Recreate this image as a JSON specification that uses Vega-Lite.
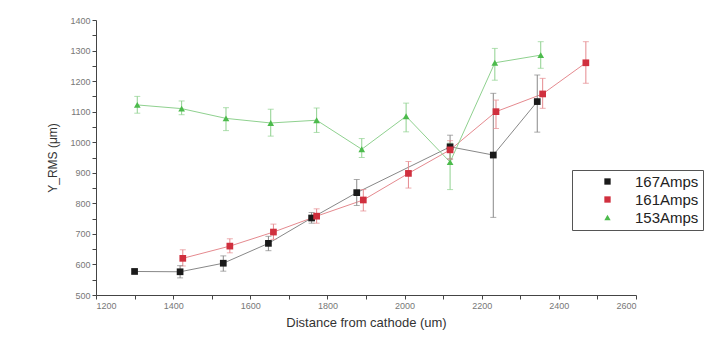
{
  "$schema": "https://vega.github.io/schema/vega-lite/v6.json",
  "autosize": {"type": "none"},
  "width": 540,
  "height": 275,
  "padding": {"left": 96, "top": 20, "right": 70, "bottom": 44},
  "background": "white",
  "config": {
    "view": {"stroke": null},
    "font": "Liberation Sans",
    "axis": {"grid": false, "domainColor": "#444", "tickColor": "#444", "labelColor": "#777", "labelFontSize": 9, "titleColor": "#333", "titleFontWeight": "normal", "titleFontSize": 12, "tickSize": 4, "labelOverlap": false},
    "legend": {"orient": "none", "legendX": 476, "legendY": 150, "strokeColor": "#555", "padding": 4, "labelFontSize": 15, "labelColor": "#222", "rowPadding": 2, "symbolSize": 40, "labelOffset": 20, "symbolOffset": 24, "fillColor": "white"}
  },
  "data": {"values": [
    {"series": "167Amps", "x": 1300, "y": 577, "lo": 570, "hi": 585},
    {"series": "167Amps", "x": 1418, "y": 576, "lo": 556, "hi": 596},
    {"series": "167Amps", "x": 1530, "y": 604, "lo": 578, "hi": 628},
    {"series": "167Amps", "x": 1647, "y": 669, "lo": 645, "hi": 692},
    {"series": "167Amps", "x": 1759, "y": 752, "lo": 735, "hi": 770},
    {"series": "167Amps", "x": 1876, "y": 835, "lo": 793, "hi": 878},
    {"series": "167Amps", "x": 2118, "y": 985, "lo": 945, "hi": 1023},
    {"series": "167Amps", "x": 2230, "y": 958, "lo": 754, "hi": 1160},
    {"series": "167Amps", "x": 2344, "y": 1133, "lo": 1033, "hi": 1220},
    {"series": "161Amps", "x": 1425, "y": 620, "lo": 595, "hi": 648},
    {"series": "161Amps", "x": 1547, "y": 660, "lo": 638, "hi": 684},
    {"series": "161Amps", "x": 1660, "y": 706, "lo": 682, "hi": 732},
    {"series": "161Amps", "x": 1772, "y": 758, "lo": 735, "hi": 782},
    {"series": "161Amps", "x": 1893, "y": 811, "lo": 775, "hi": 845},
    {"series": "161Amps", "x": 2010, "y": 898, "lo": 850, "hi": 937},
    {"series": "161Amps", "x": 2118, "y": 975, "lo": 945, "hi": 1005},
    {"series": "161Amps", "x": 2237, "y": 1100, "lo": 1045, "hi": 1138},
    {"series": "161Amps", "x": 2358, "y": 1158, "lo": 1111, "hi": 1209},
    {"series": "161Amps", "x": 2470, "y": 1260, "lo": 1193, "hi": 1329},
    {"series": "153Amps", "x": 1307, "y": 1122, "lo": 1095, "hi": 1150},
    {"series": "153Amps", "x": 1422, "y": 1110, "lo": 1090, "hi": 1135},
    {"series": "153Amps", "x": 1537, "y": 1078, "lo": 1038, "hi": 1113},
    {"series": "153Amps", "x": 1653, "y": 1063, "lo": 1020, "hi": 1108},
    {"series": "153Amps", "x": 1772, "y": 1072, "lo": 1032, "hi": 1112},
    {"series": "153Amps", "x": 1889, "y": 977, "lo": 950, "hi": 1012},
    {"series": "153Amps", "x": 2004, "y": 1085, "lo": 1034, "hi": 1128},
    {"series": "153Amps", "x": 2118, "y": 935, "lo": 845, "hi": 997},
    {"series": "153Amps", "x": 2234, "y": 1260, "lo": 1203, "hi": 1307},
    {"series": "153Amps", "x": 2353, "y": 1285, "lo": 1242, "hi": 1329}
  ]},
  "encoding": {
    "x": {"field": "x", "type": "quantitative", "scale": {"domain": [1200, 2600], "nice": false}, "title": "Distance from cathode (um)",
      "axis": {"values": [1200,1300,1400,1500,1600,1700,1800,1900,2000,2100,2200,2300,2400,2500,2600], "labelExpr": "datum.value % 200 == 0 ? datum.label : ''", "format": "d", "titleFontSize": 13, "titlePadding": 6, "labelOverlap": false}},
    "y": {"field": "y", "type": "quantitative", "scale": {"domain": [500, 1400], "nice": false, "zero": false}, "title": "Y_RMS (μm)",
      "axis": {"values": [500,550,600,650,700,750,800,850,900,950,1000,1050,1100,1150,1200,1250,1300,1350,1400], "labelExpr": "datum.value % 100 == 0 ? datum.label : ''", "format": "d", "titlePadding": 10, "labelOverlap": false, "labelBound": false}}
  },
  "layer": [
    {
      "mark": {"type": "line", "strokeWidth": 1},
      "encoding": {
        "detail": {"field": "series"},
        "color": {"field": "series", "type": "nominal", "legend": null,
          "scale": {"domain": ["167Amps", "161Amps", "153Amps"], "range": ["#888888", "#e58a8f", "#8fd18f"]}}
      }
    },
    {
      "mark": {"type": "rule", "strokeWidth": 1},
      "encoding": {
        "y": {"field": "lo", "type": "quantitative"},
        "y2": {"field": "hi"},
        "color": {"field": "series", "type": "nominal", "legend": null,
          "scale": {"domain": ["167Amps", "161Amps", "153Amps"], "range": ["#888888", "#e58a8f", "#8fd18f"]}}
      }
    },
    {
      "mark": {"type": "tick", "orient": "horizontal", "size": 6, "thickness": 1},
      "encoding": {
        "y": {"field": "lo", "type": "quantitative"},
        "color": {"field": "series", "type": "nominal", "legend": null,
          "scale": {"domain": ["167Amps", "161Amps", "153Amps"], "range": ["#888888", "#e58a8f", "#8fd18f"]}}
      }
    },
    {
      "mark": {"type": "tick", "orient": "horizontal", "size": 6, "thickness": 1},
      "encoding": {
        "y": {"field": "hi", "type": "quantitative"},
        "color": {"field": "series", "type": "nominal", "legend": null,
          "scale": {"domain": ["167Amps", "161Amps", "153Amps"], "range": ["#888888", "#e58a8f", "#8fd18f"]}}
      }
    },
    {
      "mark": {"type": "point", "filled": true, "opacity": 1, "size": 45},
      "encoding": {
        "shape": {"field": "series", "type": "nominal", "legend": {"title": null},
          "scale": {"domain": ["167Amps", "161Amps", "153Amps"], "range": ["square", "square", "triangle-up"]}},
        "fill": {"field": "series", "type": "nominal", "legend": {"title": null},
          "scale": {"domain": ["167Amps", "161Amps", "153Amps"], "range": ["#1a1a1a", "#d0303e", "#4cbb4c"]}}
      }
    }
  ],
  "resolve": {"scale": {"color": "independent"}}
}
